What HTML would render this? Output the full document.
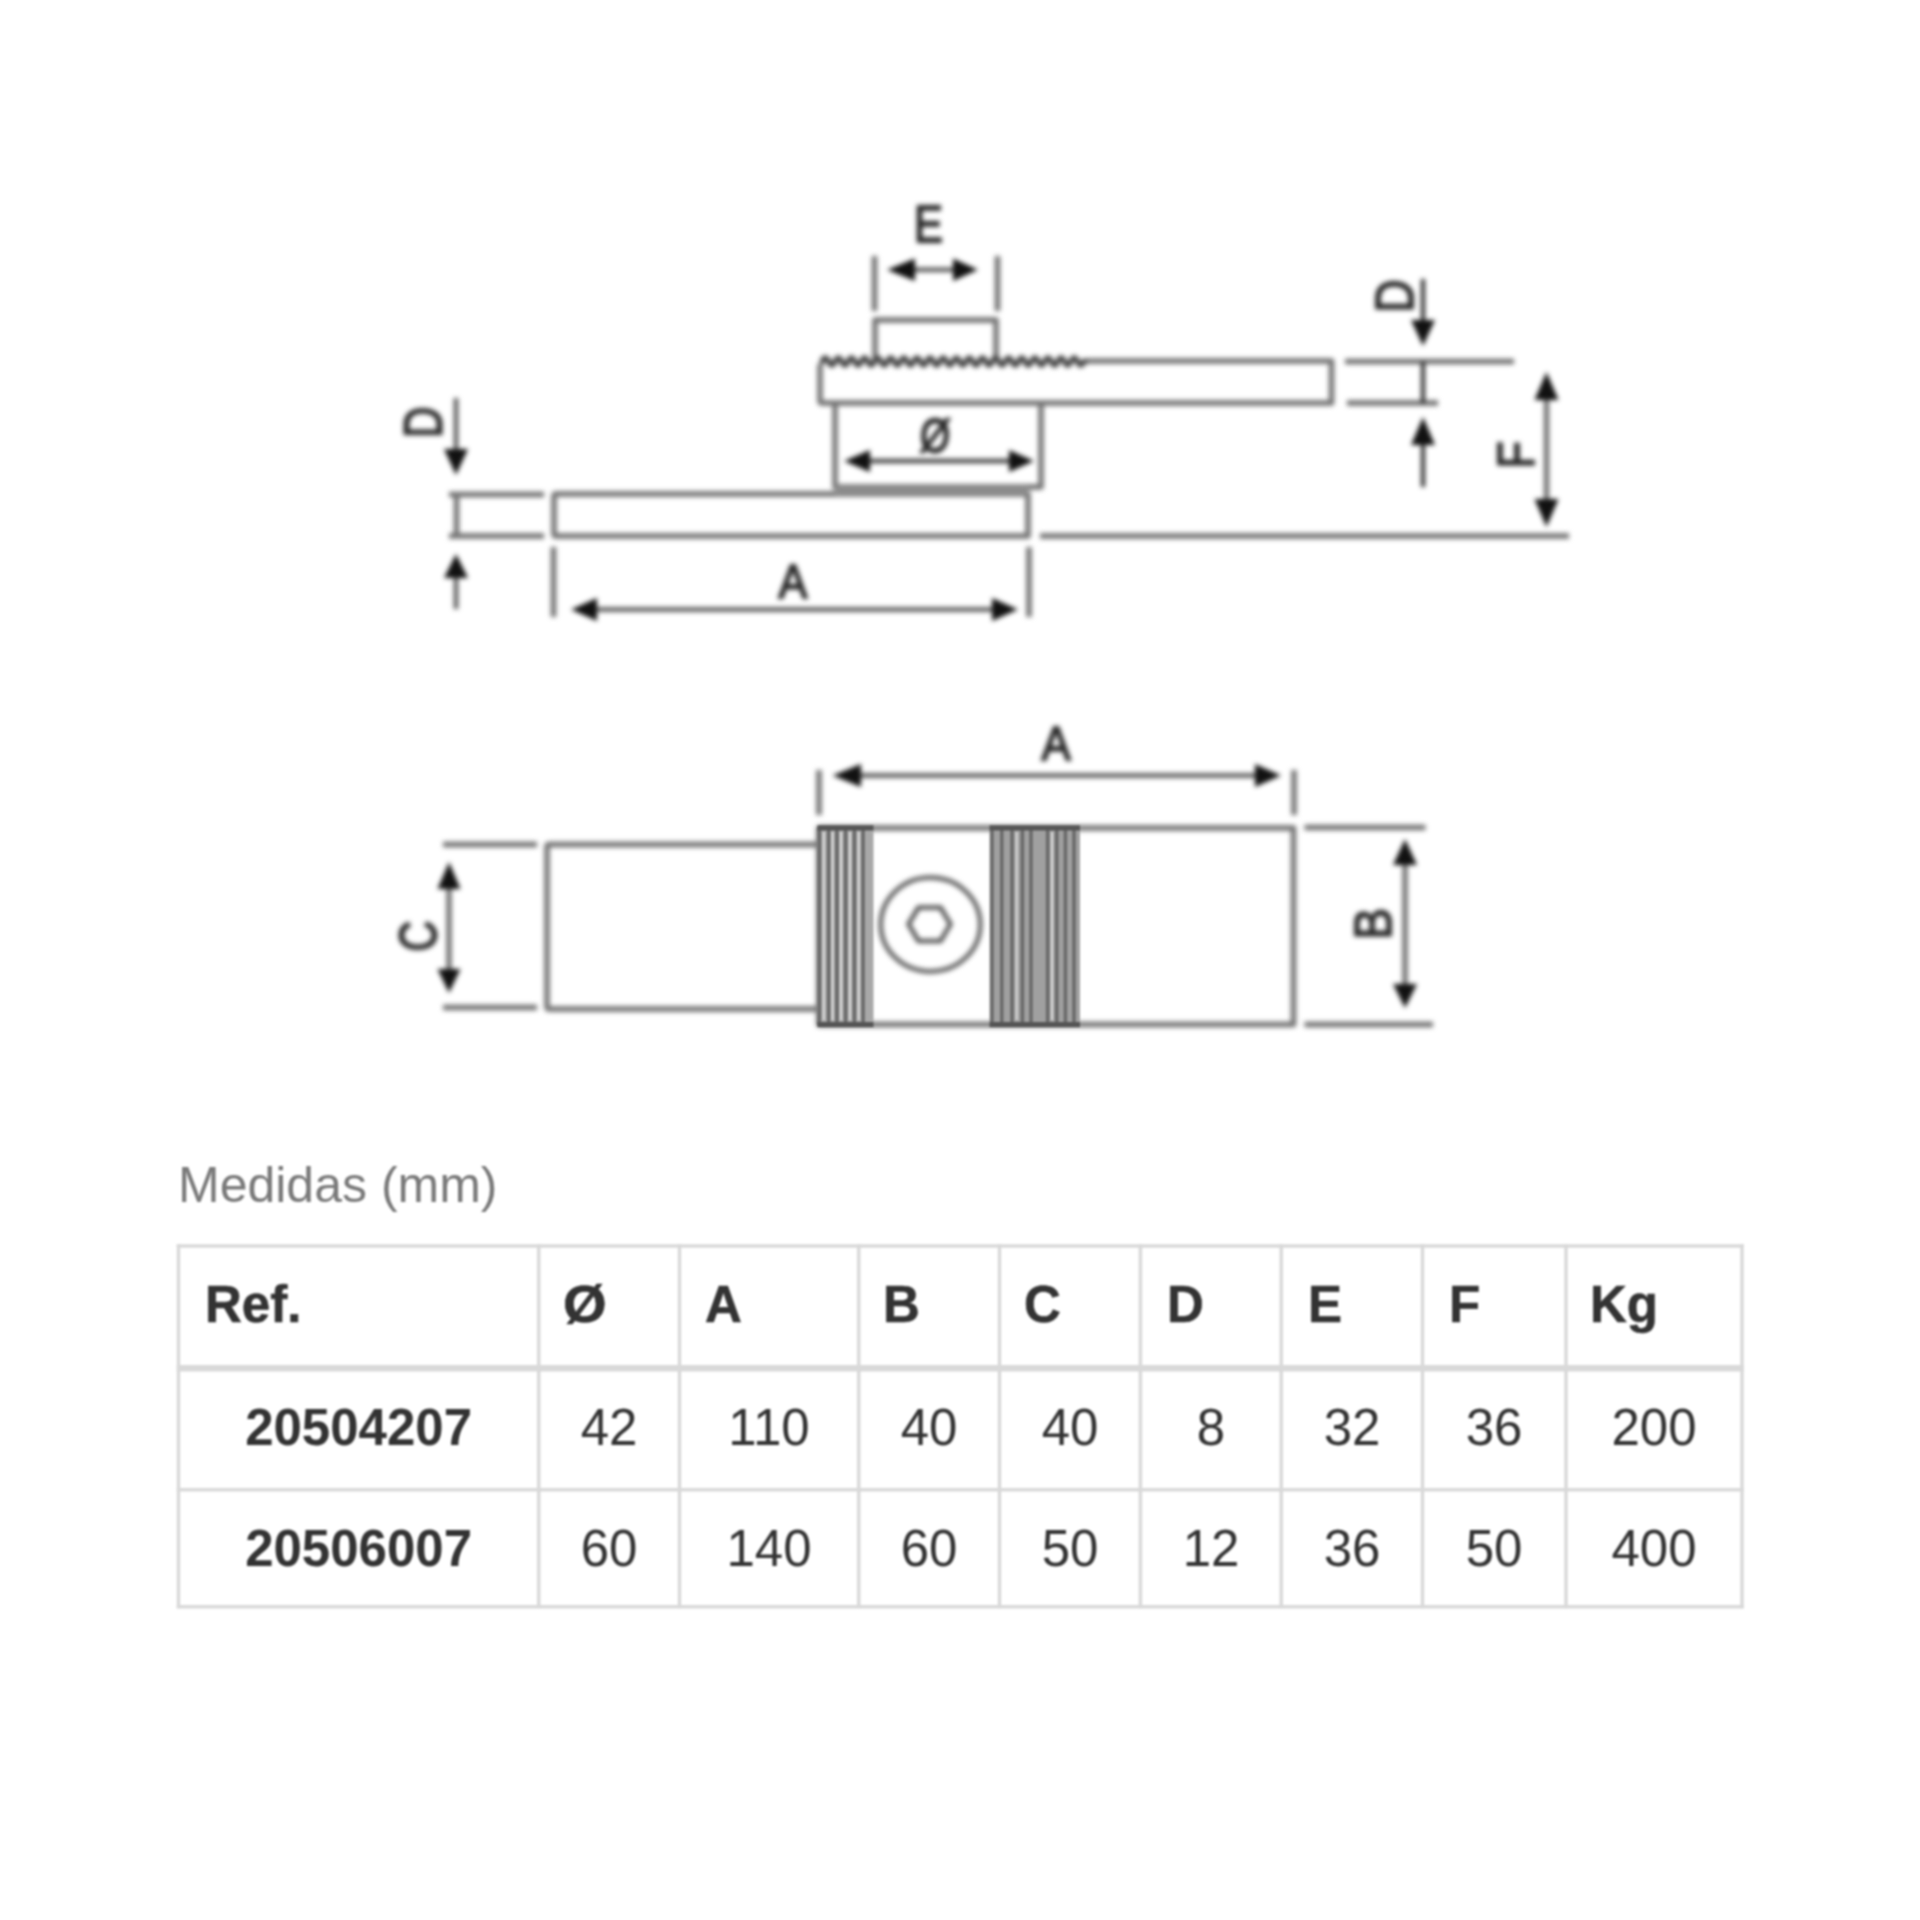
<!DOCTYPE html>
<html>
<head>
<meta charset="utf-8">
<style>
html,body{margin:0;padding:0;background:#fff;width:1920px;height:1920px;overflow:hidden;}
svg{position:absolute;left:0;top:0;}
</style>
</head>
<body>
<svg width="1920" height="1920" viewBox="0 0 1920 1920">
<defs>
  <filter id="bd" x="-5%" y="-5%" width="110%" height="110%" color-interpolation-filters="sRGB"><feGaussianBlur stdDeviation="2.4"/></filter>
  <filter id="bk" x="-5%" y="-5%" width="110%" height="110%" color-interpolation-filters="sRGB"><feGaussianBlur stdDeviation="1.3"/></filter>
  <filter id="bt" x="-5%" y="-5%" width="110%" height="110%" color-interpolation-filters="sRGB"><feGaussianBlur stdDeviation="0.8"/></filter>
</defs>
<g id="drawing" filter="url(#bd)">
<!-- ================= TOP DRAWING (side view) ================= -->
<g fill="none" stroke="#727272" stroke-width="5.5" stroke-linecap="butt" stroke-linejoin="round">
  <path d="M875,361 L875,320 L996,320 L996,361"/>
  <path d="M820,364 L820,401 Q820,403 822,403 L1331.5,403 L1331.5,361 L1087,361"/>
  <path d="M835,403 L835,487 L1041,487 L1041,403"/>
  <path d="M556,494 L1028,494 L1028,536 L556,536 Q554,536 554,534 L554,496 Q554,494 556,494 Z"/>
  <path d="M1040,536 L1569,536"/>
  <path d="M449,494.5 L544,494.5 M449,536 L544,536 M456.5,494 L456.5,536"/>
  <path d="M553.5,547 L553.5,617 M1029,547 L1029,617"/>
  <path d="M874.5,256 L874.5,311 M997.5,256 L997.5,311"/>
  <path d="M1345,361.5 L1514,361.5 M1347,403 L1438,403"/>
</g>
<rect x="835" y="486" width="193" height="9" fill="#8c8c8c"/>
<path fill="none" stroke="#484848" stroke-width="5.5" d="M820,361.5 L822.00,361.5 q3.275,-7 6.550,0 q3.275,7 6.550,0 q3.275,-7 6.550,0 q3.275,7 6.550,0 q3.275,-7 6.550,0 q3.275,7 6.550,0 q3.275,-7 6.550,0 q3.275,7 6.550,0 q3.275,-7 6.550,0 q3.275,7 6.550,0 q3.275,-7 6.550,0 q3.275,7 6.550,0 q3.275,-7 6.550,0 q3.275,7 6.550,0 q3.275,-7 6.550,0 q3.275,7 6.550,0 q3.275,-7 6.550,0 q3.275,7 6.550,0 q3.275,-7 6.550,0 q3.275,7 6.550,0 q3.275,-7 6.550,0 q3.275,7 6.550,0 q3.275,-7 6.550,0 q3.275,7 6.550,0 q3.275,-7 6.550,0 q3.275,7 6.550,0 q3.275,-7 6.550,0 q3.275,7 6.550,0 q3.275,-7 6.550,0 q3.275,7 6.550,0 q3.275,-7 6.550,0 q3.275,7 6.550,0 q3.275,-7 6.550,0 q3.275,7 6.550,0 q3.275,-7 6.550,0 q3.275,7 6.550,0 q3.275,-7 6.550,0 q3.275,7 6.550,0 q3.275,-7 6.550,0 q3.275,7 6.550,0 L1087,361"/>
<g fill="none" stroke="#585858" stroke-width="4.5">
  <path d="M456,398 L456,450 M456,578 L456,609"/>
  <path d="M597,609.5 L992,609.5"/>
  <path d="M915,269.7 L953,269.7"/>
</g>
<g fill="none" stroke="#444" stroke-width="4.5">
  <path d="M870,461 L1009,461"/>
</g>
<g fill="none" stroke="#252525" stroke-width="4">
  <path d="M1423,279 L1423,320 M1423,445 L1423,487 M1423,362 L1423,403"/>
</g>
<g fill="none" stroke="#727272" stroke-width="5.5">
  <path d="M1546.5,400 L1546.5,499"/>
</g>
<g fill="#111">
  <polygon points="444,449 468,449 456,475"/>
  <polygon points="444,578 468,578 456,554"/>
  <polygon points="571,609.5 597,598 597,621"/>
  <polygon points="1018,609.5 992,598 992,621"/>
  <polygon points="887,269.7 915,258.5 915,281"/>
  <polygon points="978,269.7 953,258.5 953,281"/>
  <polygon points="844,461 870,450 870,472"/>
  <polygon points="1034,461 1009,450 1009,472"/>
  <polygon points="1411,320 1435,320 1423,346"/>
  <polygon points="1411,445 1435,445 1423,417"/>
  <polygon points="1546.5,372 1534.5,400 1558.5,400"/>
  <polygon points="1546.5,527 1534.5,499 1558.5,499"/>
</g>
<g fill="#262626" stroke="#262626" stroke-width="1.8" font-family="Liberation Sans, sans-serif" font-size="51" text-anchor="middle">
  <text transform="translate(928.4,242) scale(0.85,1)">E</text>
  <text transform="translate(793,598) scale(0.9,1)" font-size="48">A</text>
  <text transform="translate(934,452) rotate(4) scale(0.8,1)" font-size="48">Ø</text>
  <text transform="translate(441.5,422.25) rotate(-90) scale(0.81,1)" font-size="53">D</text>
  <text transform="translate(1413,296) rotate(-90) scale(0.86,1)" font-size="53">D</text>
  <text transform="translate(1533.5,454.75) rotate(-90) scale(0.84,1)" font-size="52.5">F</text>
</g>

<!-- ================= BOTTOM DRAWING (top view) ================= -->
<g fill="none" stroke="#727272" stroke-width="5.5" stroke-linejoin="round">
  <path d="M818,844.6 L549,844.6 Q547,844.6 547,846.6 L547,1007 Q547,1009 549,1009 L818,1009"/>
  <path d="M819,828 L1293.5,828 L1293.5,1024.5 L819,1024.5 Z"/>
  <path d="M819,770 L819,815 M1294,770 L1294,815"/>
  <path d="M443,844.6 L537,844.6 M443,1007.5 L537,1007.5"/>
  <path d="M1304.5,827.5 L1425.5,827.5 M1304.5,1024.6 L1433,1024.6"/>
</g>
<ellipse cx="930.5" cy="924.5" rx="49.75" ry="47" fill="none" stroke="#5e5e5e" stroke-width="4.5"/>
<polygon points="908.5,924.2 918.5,907.5 940.5,907.5 950.5,924.2 940.5,941 918.5,941" fill="none" stroke="#555" stroke-width="4.5" stroke-linejoin="round"/>
<g fill="none" stroke="#585858" stroke-width="4.5">
  <path d="M861,775.5 L1255,775.5"/>
</g>
<g fill="none" stroke="#727272" stroke-width="5.5">
  <path d="M449,889 L449,969"/>
  <path d="M1405,865 L1405,984"/>
</g>
<g fill="#111">
  <polygon points="832.5,775.5 861,764 861,787"/>
  <polygon points="1281,775.5 1255,764 1255,787"/>
  <polygon points="449,862 437.5,889 460.5,889"/>
  <polygon points="449,993 437.5,969 460.5,969"/>
  <polygon points="1405,839 1393,865 1417,865"/>
  <polygon points="1405,1008 1393,984 1417,984"/>
</g>
<g fill="#262626" stroke="#262626" stroke-width="1.8" font-family="Liberation Sans, sans-serif" font-size="51" text-anchor="middle">
  <text transform="translate(1056,760) scale(0.9,1)" font-size="48.5">A</text>
  <text transform="translate(436,936.2) rotate(-90) scale(0.83,1)" font-size="51">C</text>
  <text transform="translate(1390.5,923.7) rotate(-90) scale(0.9,1)" font-size="52.5">B</text>
</g>
</g>

<g id="knurl" filter="url(#bk)">
<rect x="817.5" y="828" width="56" height="196.5" fill="#a8a8a8"/>
<rect x="989.5" y="828" width="90.5" height="196.5" fill="#a0a0a0"/>
<g fill="none" stroke="#6a6a6a" stroke-width="3.5">
  <path d="M819.4,828 V1024.5 M828.7,828 V1024.5 M836.9,828 V1024.5 M845.6,828 V1024.5 M854.4,828 V1024.5 M863.1,828 V1024.5"/>
  <path d="M992,828 V1024.5 M1001.8,828 V1024.5 M1012,828 V1024.5 M1022.4,828 V1024.5 M1031,828 V1024.5 M1047.6,828 V1024.5 M1056.8,828 V1024.5 M1065.4,828 V1024.5 M1074,828 V1024.5"/>
</g>
<g fill="none" stroke="#d8d8d8" stroke-width="2">
  <path d="M823.8,832 V1020 M832.5,832 V1020 M841,832 V1020 M850,832 V1020 M858.8,832 V1020"/>
  <path d="M1016.7,832 V1020 M1052,832 V1020"/>
</g>
<g fill="none" stroke="#555" stroke-width="5">
  <path d="M817.5,828 L873.5,828 M989.5,828 L1080,828 M817.5,1024.5 L873.5,1024.5 M989.5,1024.5 L1080,1024.5"/>
</g>
</g>

<!-- ================= TITLE + TABLE ================= -->
<g id="table" filter="url(#bt)">
<text x="178" y="1201.5" fill="#7a7a7a" font-family="Liberation Sans, sans-serif" font-size="50">Medidas (mm)</text>
<g fill="#d9d9d9">
  <rect x="176.75" y="1244.25" width="1567" height="3.5"/>
  <rect x="176.75" y="1365" width="1567" height="6.5"/>
  <rect x="176.75" y="1488" width="1567" height="3.5"/>
  <rect x="176.75" y="1605" width="1567" height="3.5"/>
  <rect x="176.75" y="1244.25" width="3.5" height="364"/>
  <rect x="537" y="1244.25" width="3.5" height="364"/>
  <rect x="677.75" y="1244.25" width="3.5" height="364"/>
  <rect x="857" y="1244.25" width="3.5" height="364"/>
  <rect x="997.75" y="1244.25" width="3.5" height="364"/>
  <rect x="1138.65" y="1244.25" width="3.5" height="364"/>
  <rect x="1279.5" y="1244.25" width="3.5" height="364"/>
  <rect x="1420.75" y="1244.25" width="3.5" height="364"/>
  <rect x="1564.25" y="1244.25" width="3.5" height="364"/>
  <rect x="1740.25" y="1244.25" width="3.5" height="364"/>
</g>
<g fill="#333333" font-family="Liberation Sans, sans-serif" font-size="51">
  <g font-weight="bold" stroke="#333" stroke-width="0.6">
    <text x="205" y="1322">Ref.</text>
    <text transform="translate(563,1322) scale(1.1,1)">Ø</text>
    <text x="705" y="1322">A</text>
    <text x="883" y="1322">B</text>
    <text x="1024" y="1322">C</text>
    <text x="1167" y="1322">D</text>
    <text x="1308" y="1322">E</text>
    <text x="1449" y="1322">F</text>
    <text x="1590" y="1322">Kg</text>
  </g>
  <g text-anchor="middle">
    <text x="358.6" y="1445" font-weight="bold">20504207</text>
    <text x="609" y="1445">42</text>
    <text x="769" y="1445">110</text>
    <text x="929" y="1445">40</text>
    <text x="1070" y="1445">40</text>
    <text x="1211" y="1445">8</text>
    <text x="1352" y="1445">32</text>
    <text x="1494" y="1445">36</text>
    <text x="1654" y="1445">200</text>
    <text x="358.6" y="1565.5" font-weight="bold">20506007</text>
    <text x="609" y="1565.5">60</text>
    <text x="769" y="1565.5">140</text>
    <text x="929" y="1565.5">60</text>
    <text x="1070" y="1565.5">50</text>
    <text x="1211" y="1565.5">12</text>
    <text x="1352" y="1565.5">36</text>
    <text x="1494" y="1565.5">50</text>
    <text x="1654" y="1565.5">400</text>
  </g>
</g>
</g>
</svg>
</body>
</html>
